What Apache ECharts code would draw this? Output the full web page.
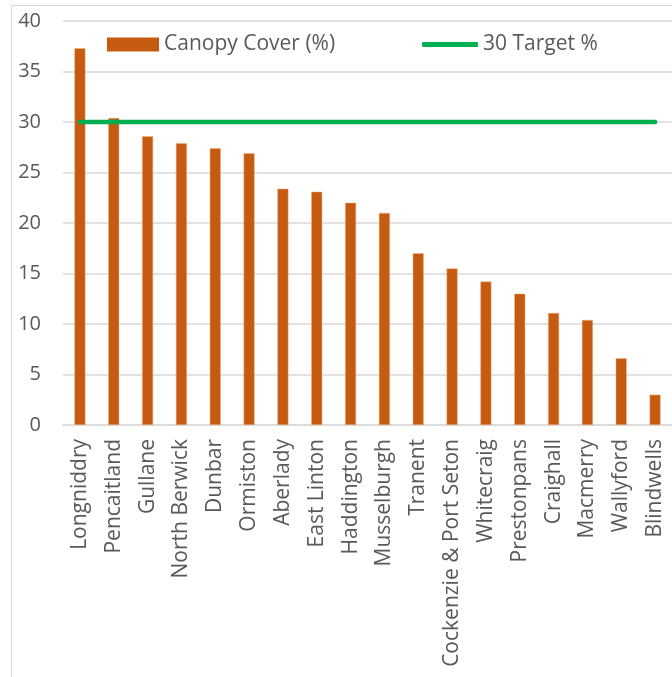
<!DOCTYPE html>
<html>
<head>
<meta charset="utf-8">
<script src="https://cdn.jsdelivr.net/npm/echarts@6/dist/echarts.min.js"></script>
<style>
  html, body { margin: 0; padding: 0; background: #fff; }
  #frame {
    position: absolute; left: 11px; top: 5px; width: 700px; height: 700px;
    border: 1.5px solid #d9d9d9; box-sizing: border-box;
  }
  #chart { position: absolute; left: 0; top: 0; width: 672px; height: 677px; }
</style>
</head>
<body>
<div id="frame"></div>
<div id="chart"></div>
<script>
// towns, sorted by canopy cover
const towns = ['Longniddry', 'Pencaitland', 'Gullane', 'North Berwick', 'Dunbar', 'Ormiston',
  'Aberlady', 'East Linton', 'Haddington', 'Musselburgh', 'Tranent', 'Cockenzie & Port Seton',
  'Whitecraig', 'Prestonpans', 'Craighall', 'Macmerry', 'Wallyford', 'Blindwells'];
const canopyCover = [37.3, 30.4, 28.6, 27.9, 27.4, 26.9, 23.4, 23.1, 22.0, 21.0,
  17.0, 15.5, 14.2, 13.0, 11.1, 10.4, 6.6, 3.0];
const target = [30, 30, 30, 30, 30, 30, 30, 30, 30, 30, 30, 30, 30, 30, 30, 30, 30, 30];

const textColor = '#595959';
const font = 'Open Sans';
const legendText = { color: textColor, fontSize: 21, fontFamily: font };

const myChart = echarts.init(document.getElementById('chart'));
myChart.setOption({
  animation: false,
  textStyle: { fontFamily: font },
  legend: [
    {
      left: 102,
      top: 29,
      itemWidth: 52,
      itemHeight: 14,
      textStyle: legendText,
      itemStyle: { borderWidth: 0 },
      data: [{ name: 'Canopy Cover (%)', icon: 'rect' }]
    },
    {
      left: 417,
      top: 29,
      itemWidth: 56,
      itemHeight: 5,
      textStyle: legendText,
      data: [{ name: '30 Target %', icon: 'roundRect' }]
    }
  ],
  grid: { left: 63, right: 0, top: 21, bottom: 252 },
  xAxis: {
    type: 'category',
    data: towns,
    axisLine: { lineStyle: { color: '#d9d9d9', width: 1.5 } },
    axisTick: { show: false },
    axisLabel: {
      interval: 0,
      rotate: 90,
      margin: 14,
      color: textColor,
      fontSize: 21,
      fontFamily: font
    }
  },
  yAxis: {
    type: 'value',
    min: 0,
    max: 40,
    interval: 5,
    axisLine: { show: false },
    axisTick: { show: false },
    splitLine: { lineStyle: { color: '#d9d9d9', width: 1.5 } },
    axisLabel: { color: textColor, fontSize: 20, fontFamily: font, margin: 22 }
  },
  series: [
    {
      name: 'Canopy Cover (%)',
      type: 'bar',
      data: canopyCover,
      barWidth: 11,
      itemStyle: { color: '#c55a11', borderColor: '#f4b183', borderWidth: 0.5 }
    },
    {
      name: '30 Target %',
      type: 'line',
      data: target,
      symbol: 'none',
      lineStyle: { color: '#00b050', width: 4.5, cap: 'round' },
      itemStyle: { color: '#00b050' }
    }
  ]
});
</script>
</body>
</html>
